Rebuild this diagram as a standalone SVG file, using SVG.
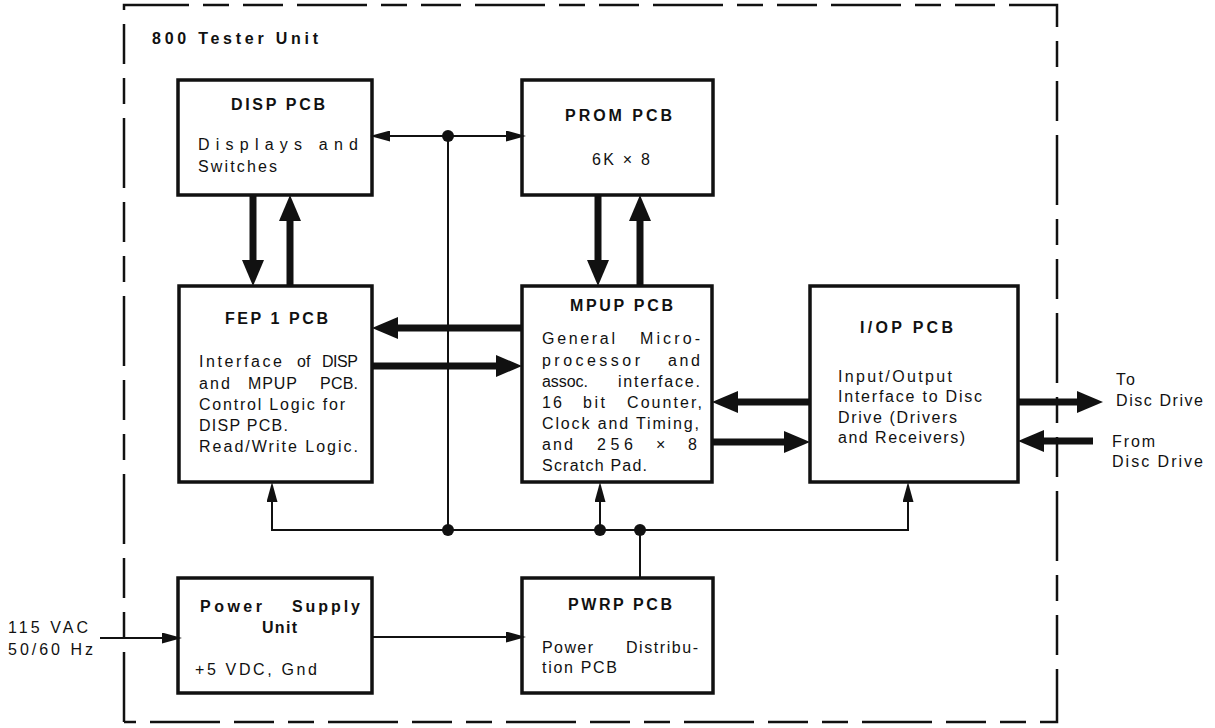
<svg xmlns="http://www.w3.org/2000/svg" width="1215" height="728" viewBox="0 0 1215 728">
<style>
text{font-family:"Liberation Sans",Arial,sans-serif;font-size:16px;fill:#111}
.b{font-weight:bold}
.box{fill:none;stroke:#111;stroke-width:3.5}
.thin{fill:none;stroke:#111;stroke-width:2}
.thick{fill:none;stroke:#111;stroke-width:7}
.dot{fill:#111}
.border{fill:none;stroke:#111;stroke-width:2.5;stroke-dasharray:70 14 26 14 40 14}
</style>
<defs>
<marker id="ah" markerUnits="userSpaceOnUse" markerWidth="20" markerHeight="11" refX="8" refY="5.5" orient="auto-start-reverse"><path d="M0,0 L20,5.5 L0,11 z" fill="#111"/></marker>
<marker id="ahk" markerUnits="userSpaceOnUse" markerWidth="26" markerHeight="22" refX="6" refY="11" orient="auto-start-reverse"><path d="M0,0 L26,11 L0,22 z" fill="#111"/></marker>
</defs>
<rect width="1215" height="728" fill="#fff"/>
<g id="border">
<path class="border" d="M124,722 L124,5 L1057,5 L1057,722 L124,722"/>
<text class="b" x="152" y="44" font-size="20" textLength="166">800 Tester Unit</text>
</g>
<g id="connectors">
<line class="thin" x1="382" y1="136" x2="514" y2="136" marker-start="url(#ah)" marker-end="url(#ah)"/>
<line class="thin" x1="448" y1="136" x2="448" y2="530"/>
<polyline class="thin" points="272,494 272,530 908,530 908,494" marker-start="url(#ah)" marker-end="url(#ah)"/>
<line class="thin" x1="600" y1="530" x2="600" y2="494" marker-end="url(#ah)"/>
<line class="thin" x1="640" y1="530" x2="640" y2="578"/>
<line class="thin" x1="100" y1="638" x2="170" y2="638" marker-end="url(#ah)"/>
<line class="thin" x1="372" y1="637" x2="514" y2="637" marker-end="url(#ah)"/>
<circle class="dot" cx="448" cy="136" r="6"/>
<circle class="dot" cx="448" cy="530" r="6"/>
<circle class="dot" cx="600" cy="530" r="6"/>
<circle class="dot" cx="640" cy="530" r="6"/>
<line class="thick" x1="253" y1="195" x2="253" y2="266" marker-end="url(#ahk)"/>
<line class="thick" x1="290" y1="286" x2="290" y2="215" marker-end="url(#ahk)"/>
<line class="thick" x1="598" y1="195" x2="598" y2="266" marker-end="url(#ahk)"/>
<line class="thick" x1="640" y1="286" x2="640" y2="215" marker-end="url(#ahk)"/>
<line class="thick" x1="522" y1="328" x2="392" y2="328" marker-end="url(#ahk)"/>
<line class="thick" x1="372" y1="366" x2="502" y2="366" marker-end="url(#ahk)"/>
<line class="thick" x1="810" y1="402" x2="732" y2="402" marker-end="url(#ahk)"/>
<line class="thick" x1="712" y1="442" x2="790" y2="442" marker-end="url(#ahk)"/>
<line class="thick" x1="1018" y1="402" x2="1083" y2="402" marker-end="url(#ahk)"/>
<line class="thick" x1="1093" y1="441" x2="1038" y2="441" marker-end="url(#ahk)"/>
</g>
<g id="disp">
<rect class="box" x="178" y="80" width="194" height="115"/>
<text class="b" x="231" y="110" textLength="94">DISP PCB</text>
<text x="198" y="150" textLength="160">Displays and</text>
<text x="198" y="172" textLength="79">Switches</text>
</g>
<g id="prom">
<rect class="box" x="522" y="80" width="191" height="115"/>
<text class="b" x="565" y="121" textLength="107">PROM PCB</text>
<text x="592" y="165" textLength="58">6K × 8</text>
</g>
<g id="fep">
<rect class="box" x="179" y="286" width="193" height="196"/>
<text class="b" x="225" y="324" textLength="103">FEP 1 PCB</text>
<text x="199" y="367" textLength="83">Interface</text><text x="297" y="367">of</text><text x="322" y="367" textLength="36">DISP</text>
<text x="199" y="389" textLength="31">and</text><text x="248" y="389" textLength="49">MPUP</text><text x="320" y="389" textLength="38">PCB.</text>
<text x="199" y="410" textLength="146">Control Logic for</text>
<text x="199" y="431" textLength="89">DISP PCB.</text>
<text x="199" y="452" textLength="159">Read/Write Logic.</text>
</g>
<g id="mpup">
<rect class="box" x="522" y="286" width="190" height="196"/>
<text class="b" x="570" y="311" textLength="103">MPUP PCB</text>
<text x="542" y="344" textLength="73">General</text><text x="640" y="344" textLength="60">Micro-</text>
<text x="542" y="366" textLength="98">processor</text><text x="668" y="366" textLength="32">and</text>
<text x="542" y="387" textLength="46">assoc.</text><text x="618" y="387" textLength="82">interface.</text>
<text x="542" y="408" textLength="20">16</text><text x="583" y="408" textLength="22">bit</text><text x="627" y="408" textLength="75">Counter,</text>
<text x="542" y="429" textLength="157">Clock and Timing,</text>
<text x="542" y="450" textLength="31">and</text><text x="597" y="450" textLength="36">256</text><text x="656" y="450">×</text><text x="688" y="450">8</text>
<text x="542" y="471" textLength="105">Scratch Pad.</text>
</g>
<g id="iop">
<rect class="box" x="810" y="286" width="208" height="196"/>
<text class="b" x="860" y="333" textLength="93">I/OP PCB</text>
<text x="838" y="382" textLength="114">Input/Output</text>
<text x="838" y="402" textLength="144">Interface to Disc</text>
<text x="838" y="423" textLength="119">Drive (Drivers</text>
<text x="838" y="443" textLength="127">and Receivers)</text>
</g>
<g id="psu">
<rect class="box" x="178" y="578" width="194" height="115"/>
<text class="b" x="200" y="612" textLength="62">Power</text><text class="b" x="292" y="612" textLength="68">Supply</text>
<text class="b" x="262" y="633" textLength="35">Unit</text>
<text x="195" y="675" textLength="122">+5 VDC, Gnd</text>
</g>
<g id="pwrp">
<rect class="box" x="522" y="578" width="191" height="115"/>
<text class="b" x="568" y="610" textLength="104">PWRP PCB</text>
<text x="542" y="653" textLength="51">Power</text><text x="626" y="653" textLength="72">Distribu-</text>
<text x="542" y="673" textLength="75">tion PCB</text>
</g>
<g id="labels">
<text x="8" y="633" textLength="80">115 VAC</text>
<text x="8" y="655" textLength="85">50/60 Hz</text>
<text x="1116" y="385" textLength="19">To</text>
<text x="1116" y="406" textLength="87">Disc Drive</text>
<text x="1112" y="447" textLength="43">From</text>
<text x="1112" y="467" textLength="91">Disc Drive</text>
</g>
</svg>
